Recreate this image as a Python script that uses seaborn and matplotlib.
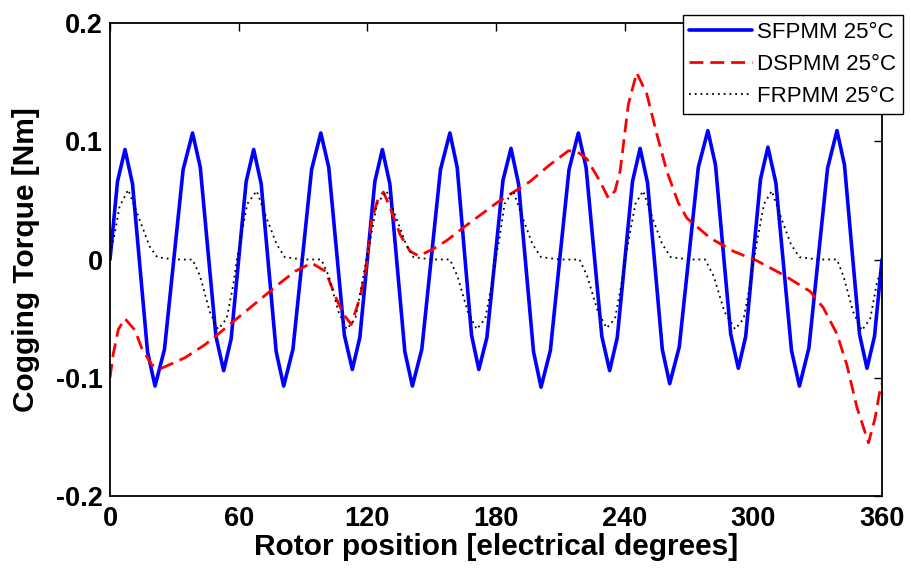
import matplotlib
matplotlib.use("Agg")
import matplotlib.pyplot as plt
import seaborn as sns
import pandas as pd

# ---- data ----
sf_x = [0, 3.5, 7, 10.5, 14, 17.5, 21, 25.4, 29.75, 34.1, 38.5, 42.1, 45.75, 49.4, 53,
        56.5, 60, 63.5, 67, 70.5, 74, 77.5, 81, 85.3, 89.65, 94, 98.3, 102, 105.65, 109.3, 113,
        116.5, 120, 123.5, 127, 130.5, 134, 137.5, 141, 145.4, 149.75, 154.1, 158.5,
        161.9, 165.25, 168.6, 172, 175.75, 179.5, 183.25, 187, 190.5, 194, 197.5, 201,
        205.35, 209.7, 214.05, 218.4, 222, 225.7, 229.35, 233, 236.55, 240.1, 243.65, 247.2,
        250.65, 254.1, 257.55, 261, 265.45, 269.9, 274.35, 278.8, 282.35, 285.9, 289.45, 293,
        296.45, 299.9, 303.35, 306.8, 310.5, 314.15, 317.8, 321.5, 325.9, 330.25, 334.6, 339,
        342.5, 346, 349.5, 353, 356.5, 360]
sf_y = [0.0, 0.066, 0.093, 0.064, -0.007, -0.078, -0.107, -0.076, 0.0, 0.076, 0.107, 0.078, 0.006, -0.065, -0.094,
        -0.067, 0.0, 0.066, 0.093, 0.064, -0.007, -0.078, -0.107, -0.076, 0.0, 0.076, 0.107, 0.078, 0.007, -0.064, -0.093,
        -0.066, 0.0, 0.066, 0.093, 0.064, -0.007, -0.078, -0.107, -0.076, 0.0, 0.076, 0.107,
        0.078, 0.007, -0.064, -0.093, -0.066, 0.0, 0.067, 0.094, 0.064, -0.007, -0.078, -0.108,
        -0.077, 0.0, 0.076, 0.107, 0.078, 0.006, -0.065, -0.094, -0.066, 0.0, 0.066, 0.094,
        0.065, -0.005, -0.076, -0.105, -0.074, 0.002, 0.078, 0.109, 0.080, 0.008, -0.063, -0.092,
        -0.065, 0.002, 0.068, 0.095, 0.065, -0.006, -0.077, -0.107, -0.075, 0.001, 0.077, 0.109,
        0.080, 0.008, -0.063, -0.092, -0.065, 0.0]

ds_x = [0, 1.5, 3.9, 7, 11.7, 14.8, 19.4, 24, 35, 44.3, 50.5, 59.8, 69.2, 78.5, 86.3, 94,
        100.5, 105.3, 108.8, 112.5, 116.6, 119.7, 122, 125.1, 127.5, 130.6, 135.3, 139.9, 144,
        150.8, 157, 164.8, 180.4, 195.9, 205, 213.8, 218, 222.4, 228.5, 232.4, 235.5, 237.9,
        241.7, 245.6, 250.3, 255, 259.6, 265, 269, 280, 290.7, 301.6, 314, 326.5, 332.7, 339,
        343.6, 348.3, 353.7, 356.8, 359, 360]
ds_y = [-0.100, -0.080, -0.059, -0.050, -0.060, -0.075, -0.089, -0.092, -0.083, -0.072, -0.063,
        -0.049, -0.035, -0.021, -0.010, -0.003, -0.010, -0.032, -0.046, -0.055, -0.032, -0.004,
        0.033, 0.052, 0.057, 0.044, 0.021, 0.007, 0.003, 0.009, 0.016, 0.027, 0.048, 0.066,
        0.080, 0.092, 0.091, 0.085, 0.066, 0.052, 0.058, 0.075, 0.131, 0.158, 0.140, 0.106,
        0.075, 0.048, 0.035, 0.018, 0.007, -0.001, -0.013, -0.027, -0.041, -0.063, -0.089,
        -0.125, -0.155, -0.134, -0.111, -0.105]

fr_x = [0, 2, 4.5, 8.5, 13.5, 18.5, 22, 30, 38.5, 42, 46.5, 50.4, 54.4, 57.5, 59.2, 61, 64,
        68.4, 73, 77.7, 81.5, 90, 98.5, 102, 106.5, 110.4, 114.4, 117.5, 119.5, 121.5, 124.5,
        129, 133.5, 138, 141.5, 150, 158.5, 162, 166.8, 171, 175, 178, 179.8, 181.6, 184,
        188, 192.5, 197, 201, 210, 219, 222.5, 227.5, 231.6, 235.5, 238.5, 240.3, 242, 245,
        248.6, 253, 257.5, 261.5, 270, 277.5, 281.5, 286.5, 291.5, 295.5, 298.5, 300.3, 302,
        305, 308.6, 313, 317.5, 321.5, 330, 339, 342, 346.5, 350.6, 354.5, 357.5, 360]
fr_y = [0.005, 0.020, 0.045, 0.059, 0.035, 0.011, 0.002, 0.0, 0.0, -0.014, -0.044, -0.059,
        -0.050, -0.021, 0.0, 0.018, 0.047, 0.058, 0.035, 0.013, 0.002, 0.0, 0.0, -0.014,
        -0.044, -0.059, -0.050, -0.021, 0.0, 0.018, 0.047, 0.058, 0.035, 0.013, 0.002, 0.0,
        0.0, -0.014, -0.044, -0.059, -0.050, -0.021, 0.0, 0.018, 0.047, 0.058, 0.035, 0.013,
        0.002, 0.0, 0.0, -0.014, -0.044, -0.058, -0.050, -0.021, 0.0, 0.018, 0.047, 0.058,
        0.035, 0.013, 0.002, 0.0, 0.0, -0.014, -0.044, -0.059, -0.050, -0.021, 0.0, 0.018,
        0.047, 0.058, 0.035, 0.013, 0.002, 0.0, 0.0, -0.014, -0.044, -0.060, -0.050, -0.021,
        -0.005]

series_names = ["SFPMM 25\u00b0C", "DSPMM 25\u00b0C", "FRPMM 25\u00b0C"]
x_ticks = [0, 60, 120, 180, 240, 300, 360]
y_ticks = [-0.2, -0.1, 0, 0.1, 0.2]
y_tick_labels = ["-0.2", "-0.1", "0", "0.1", "0.2"]

# ---- plotting ----
sns.set_style("white")
plt.rcParams["font.family"] = ["Liberation Sans", "DejaVu Sans"]
plt.rcParams["text.color"] = "black"
plt.rcParams["axes.labelcolor"] = "black"
plt.rcParams["xtick.color"] = "black"
plt.rcParams["ytick.color"] = "black"

fig = plt.figure(figsize=(9.11, 5.71), dpi=100)
ax = fig.add_axes([110 / 911, 1 - 496 / 571, 772 / 911, 473 / 571])

df_sf = pd.DataFrame({"x": sf_x, "y": sf_y})
df_ds = pd.DataFrame({"x": ds_x, "y": ds_y})
df_fr = pd.DataFrame({"x": fr_x, "y": fr_y})

sns.lineplot(data=df_sf, x="x", y="y", ax=ax, color="#0000FF", linewidth=2.6,
             sort=False, estimator=None, label=series_names[0])
sns.lineplot(data=df_ds, x="x", y="y", ax=ax, color="#FF0000", linewidth=2.0,
             sort=False, estimator=None, label=series_names[1])
ax.lines[-1].set_linestyle((0, (5, 2.5)))
sns.lineplot(data=df_fr, x="x", y="y", ax=ax, color="black", linewidth=1.3,
             sort=False, estimator=None, label=series_names[2])
ax.lines[-1].set_linestyle((0, (1, 2.2)))

ax.set_xlim(0, 360)
ax.set_ylim(-0.2, 0.2)
ax.set_xticks(x_ticks)
ax.set_xticklabels([str(t) for t in x_ticks])
ax.set_yticks(y_ticks)
ax.set_yticklabels(y_tick_labels)
ax.tick_params(direction="in", length=6, width=1.0, top=True, right=True,
               labelsize=19.5, colors="black")
ax.tick_params(axis="x", pad=7)
ax.tick_params(axis="y", pad=5)
for lab in ax.get_xticklabels() + ax.get_yticklabels():
    lab.set_fontweight("bold")
for s in ax.spines.values():
    s.set_color("black")
    s.set_linewidth(1.3)

ax.set_xlabel("Rotor position [electrical degrees]", fontsize=21.5, fontweight="bold",
              labelpad=1, color="black")
ax.set_ylabel("Cogging Torque [Nm]", fontsize=21.5, fontweight="bold", labelpad=12,
              color="black")

leg = ax.legend(loc="upper right", bbox_to_anchor=(1.027, 1.017), borderaxespad=0,
                fancybox=False, frameon=True, fontsize=16, handlelength=2.8,
                handletextpad=0.25, labelspacing=0.5, borderpad=0.3)
leg.get_frame().set_edgecolor("black")
leg.get_frame().set_linewidth(1.0)
leg.get_frame().set_alpha(1)

fig.savefig("out.png", dpi=100)
